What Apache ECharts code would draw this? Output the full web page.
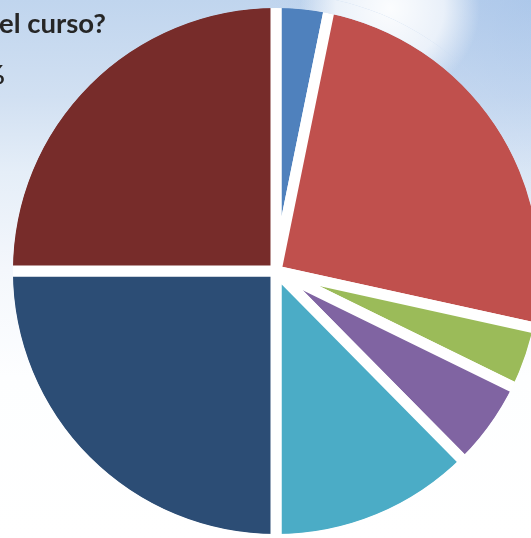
<!DOCTYPE html>
<html>
<head>
<meta charset="utf-8">
<script src="https://cdn.jsdelivr.net/npm/echarts@6/dist/echarts.min.js"></script>
<style>
  html, body { margin: 0; padding: 0; width: 531px; height: 538px; overflow: hidden; background: #ffffff; }
  #chart { width: 531px; height: 538px; }
</style>
</head>
<body>
<div id="chart"></div>
<script>
// Slice names (not shown in the picture) and their shares (%), clockwise from 12 o'clock
const categories = ['Opción 1', 'Opción 2', 'Opción 3', 'Opción 4', 'Opción 5', 'Opción 6', 'Opción 7'];
const values = [3.2, 25.25, 3.8, 5.35, 12.4, 25, 25];
const colors = ['#4F81BD', '#C0504D', '#9BBB59', '#8064A2', '#4BACC6', '#2C4D75', '#772C2A'];
const titleText = 'el curso?';
const sideText = '%';

// background pieces, used both for the page and for the rim cover
const skyV = () => ({ type: 'linear', x: 0, y: 0, x2: 0, y2: 538, global: true, colorStops: [
  { offset: 0.00, color: '#c0d5ee' },
  { offset: 0.18, color: '#d1e0f2' },
  { offset: 0.32, color: '#e5eef8' },
  { offset: 0.50, color: '#f4f7fc' },
  { offset: 0.70, color: '#fdfeff' },
  { offset: 1.00, color: '#ffffff' } ] });
const skyTint = () => ({ type: 'radial', x: 531, y: 0, r: 260, global: true, colorStops: [
  { offset: 0, color: 'rgba(150,184,230,0.45)' },
  { offset: 0.6, color: 'rgba(160,190,232,0.2)' },
  { offset: 1, color: 'rgba(160,190,232,0)' } ] });
const cloud = () => ({ type: 'radial', x: 390, y: 8, r: 90, global: true, colorStops: [
  { offset: 0, color: 'rgba(255,255,255,0.95)' },
  { offset: 0.6, color: 'rgba(255,255,255,0.7)' },
  { offset: 1, color: 'rgba(255,255,255,0)' } ] });

const CX = 276, CY = 271, R_FILL = 263.5, GAP = 11;

function rim(fill, z) {
  return {
    type: 'pie', silent: true, z: z, center: [CX, CY],
    radius: [R_FILL - 0.4, R_FILL + GAP + 3],
    label: { show: false }, labelLine: { show: false }, emphasis: { disabled: true },
    itemStyle: { color: fill, borderWidth: 0 },
    data: [{ name: 'rim', value: 1 }]
  };
}

const chart = echarts.init(document.getElementById('chart'), null, { renderer: 'canvas' });
chart.setOption({
  animation: false,
  backgroundColor: 'transparent',
  graphic: [
    { type: 'rect', z: -10, silent: true, shape: { x: 0, y: 0, width: 531, height: 538 }, style: { fill: skyV() } },
    { type: 'rect', z: -9, silent: true, shape: { x: 0, y: 0, width: 531, height: 538 }, style: { fill: skyTint() } },
    { type: 'rect', z: -8, silent: true, shape: { x: 0, y: 0, width: 531, height: 538 }, style: { fill: cloud() } },
    { type: 'text', z: 20, silent: true, style: {
        x: -1, y: 24.5, text: titleText, fill: '#262626',
        font: 'bold 27.5px Lato, "Open Sans", sans-serif', verticalAlign: 'middle', align: 'left' } },
    { type: 'text', z: 20, silent: true, style: {
        x: 5, y: 75, text: sideText, fill: '#262626',
        font: 'bold 27px Lato, "Open Sans", sans-serif', verticalAlign: 'middle', align: 'right' } }
  ],
  series: [
    {
      type: 'pie',
      silent: true,
      z: 2,
      center: [CX, CY],
      radius: [0, R_FILL + GAP / 2],
      startAngle: 90,
      clockwise: true,
      label: { show: false },
      labelLine: { show: false },
      emphasis: { disabled: true },
      itemStyle: { borderColor: '#ffffff', borderWidth: GAP, borderJoin: 'miter' },
      data: categories.map((n, i) => ({ name: n, value: values[i], itemStyle: { color: colors[i] } }))
    },
    rim(skyV(), 3),
    rim(skyTint(), 4),
    rim(cloud(), 5)
  ]
});
</script>
</body>
</html>
